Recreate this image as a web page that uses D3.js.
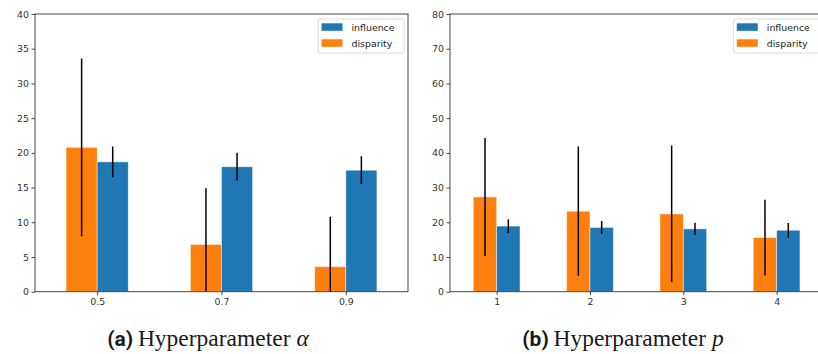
<!DOCTYPE html>
<html>
<head>
<meta charset="utf-8">
<script src="https://cdn.jsdelivr.net/npm/d3@7"></script>
<style>
  html, body { margin: 0; padding: 0; background: #fff; }
  svg { display: block; }
</style>
</head>
<body>
<svg id="chart" width="818" height="354"></svg>
<script>
// ---- data ----
const alphaLabels = ["0.5", "0.7", "0.9"];
const alphaInfluence = [18.7, 18.0, 17.5];
const alphaInfluenceErr = [2.2, 2.0, 2.0];
const alphaDisparity = [20.8, 6.8, 3.6];
const alphaDisparityErr = [12.8, 8.1, 7.2];
const alphaYTicks = [0, 5, 10, 15, 20, 25, 30, 35, 40];

const pLabels = ["1", "2", "3", "4"];
const pInfluence = [18.9, 18.5, 18.1, 17.7];
const pInfluenceErr = [2.0, 1.9, 1.75, 2.1];
const pDisparity = [27.3, 23.2, 22.4, 15.6];
const pDisparityErr = [17.0, 18.6, 19.7, 10.9];
const pYTicks = [0, 10, 20, 30, 40, 50, 60, 70, 80];

const seriesNames = ["influence", "disparity"];
const colors = { influence: "#1f77b4", disparity: "#ff7f0e" };

const svg = d3.select("#chart");

function panel(cfg) {
  const g = svg.append("g");
  const n = cfg.labels.length;
  const x = d3.scaleLinear().domain([-0.5, n - 0.5]).range([cfg.left, cfg.right]);
  const y = d3.scaleLinear().domain([0, cfg.yMax]).range([cfg.bottom, cfg.top]);
  const barW = 0.25;

  const clipId = "clip" + cfg.id;
  svg.append("clipPath").attr("id", clipId)
    .append("rect").attr("x", cfg.left).attr("y", cfg.top)
    .attr("width", cfg.right - cfg.left).attr("height", cfg.bottom - cfg.top);

  const plot = g.append("g").attr("clip-path", `url(#${clipId})`);

  const rows = cfg.labels.map((l, i) => ({
    i, infl: cfg.infl[i], inflErr: cfg.inflErr[i], disp: cfg.disp[i], dispErr: cfg.dispErr[i]
  }));

  plot.selectAll(".disp").data(rows).join("rect")
    .attr("x", d => x(d.i - barW))
    .attr("width", d => x(barW) - x(0))
    .attr("y", d => y(d.disp))
    .attr("height", d => y(0) - y(d.disp))
    .attr("fill", colors.disparity)
    .attr("stroke", "rgba(255,255,255,0.55)").attr("stroke-width", 0.8);
  plot.selectAll(".infl").data(rows).join("rect")
    .attr("x", d => x(d.i))
    .attr("width", d => x(barW) - x(0))
    .attr("y", d => y(d.infl))
    .attr("height", d => y(0) - y(d.infl))
    .attr("fill", colors.influence)
    .attr("stroke", "rgba(255,255,255,0.55)").attr("stroke-width", 0.8);

  plot.selectAll(".edisp").data(rows).join("line")
    .attr("x1", d => x(d.i - barW / 2)).attr("x2", d => x(d.i - barW / 2))
    .attr("y1", d => y(d.disp - d.dispErr)).attr("y2", d => y(d.disp + d.dispErr))
    .attr("stroke", "#000").attr("stroke-width", 1.5);
  plot.selectAll(".einfl").data(rows).join("line")
    .attr("x1", d => x(d.i + barW / 2)).attr("x2", d => x(d.i + barW / 2))
    .attr("y1", d => y(d.infl - d.inflErr)).attr("y2", d => y(d.infl + d.inflErr))
    .attr("stroke", "#000").attr("stroke-width", 1.5);

  const yAxis = d3.axisLeft(y).tickValues(cfg.yTicks).tickSize(3.5).tickPadding(2.5).tickSizeOuter(0);
  const ya = g.append("g").attr("transform", `translate(${cfg.left},0)`).call(yAxis);
  const xAxis = d3.axisBottom(x).tickValues(d3.range(n)).tickFormat(i => cfg.labels[i])
    .tickSize(3.5).tickPadding(3).tickSizeOuter(0);
  const xa = g.append("g").attr("transform", `translate(0,${cfg.bottom})`).call(xAxis);
  [ya, xa].forEach(a => {
    a.select(".domain").remove();
    a.selectAll("line").attr("stroke", "#333").attr("stroke-width", 0.9);
    a.selectAll("text").attr("fill", "#333")
      .style("font-family", "DejaVu Sans, sans-serif").style("font-size", "9.4px");
  });

  g.append("rect").attr("x", cfg.left).attr("y", cfg.top)
    .attr("width", cfg.right - cfg.left).attr("height", cfg.bottom - cfg.top)
    .attr("fill", "none").attr("stroke", "#333").attr("stroke-width", 0.9);

  const lw = 86, lh = 34;
  const lx = cfg.right - 4 - lw, ly = cfg.top + 5;
  const leg = g.append("g");
  leg.append("rect").attr("x", lx).attr("y", ly).attr("width", lw).attr("height", lh)
    .attr("rx", 2).attr("fill", "rgba(255,255,255,0.8)").attr("stroke", "#d0d0d0").attr("stroke-width", 0.8);
  seriesNames.forEach((s, k) => {
    leg.append("rect").attr("x", lx + 3.5).attr("y", ly + 4.3 + k * 16)
      .attr("width", 21).attr("height", 7.5).attr("fill", colors[s]);
    leg.append("text").attr("x", lx + 33.5).attr("y", ly + 11.8 + k * 16)
      .attr("fill", "#222")
      .style("font-family", "DejaVu Sans, sans-serif").style("font-size", "9.4px")
      .text(s);
  });

  const cap = svg.append("text").attr("x", cfg.capX).attr("y", 345.5)
    .attr("text-anchor", "middle").attr("fill", "#1a1a1a");
  cap.append("tspan").style("font-family", "'Liberation Sans Narrow', 'Roboto', sans-serif")
    .style("font-weight", "bold").style("font-size", "21px").text(cfg.capTag);
  cap.append("tspan").style("font-family", "'Liberation Serif', 'DejaVu Serif', serif")
    .style("font-size", "23.5px").text("\u2009Hyperparameter ");
  cap.append("tspan").style("font-family", "'Liberation Serif', 'DejaVu Serif', serif")
    .style("font-style", "italic").style("font-size", "23.5px").text(cfg.capSym);
}

panel({
  id: "a", labels: alphaLabels, infl: alphaInfluence, inflErr: alphaInfluenceErr,
  disp: alphaDisparity, dispErr: alphaDisparityErr, yMax: 40, yTicks: alphaYTicks,
  left: 35, right: 408, top: 14, bottom: 291.7,
  capX: 208, capTag: "(a)", capSym: "\u03B1"
});
panel({
  id: "b", labels: pLabels, infl: pInfluence, inflErr: pInfluenceErr,
  disp: pDisparity, dispErr: pDisparityErr, yMax: 80, yTicks: pYTicks,
  left: 450, right: 823.3, top: 14, bottom: 291.7,
  capX: 623, capTag: "(b)", capSym: "p"
});
</script>
</body>
</html>
